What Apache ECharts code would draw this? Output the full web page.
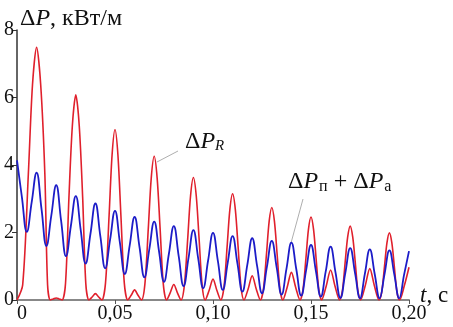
<!DOCTYPE html>
<html>
<head>
    <meta charset="utf-8" />
    <title>ΔP(t)</title>
    <script src="https://cdn.jsdelivr.net/npm/echarts@6/dist/echarts.min.js"></script>
    <style>
        html, body { margin: 0; padding: 0; background: #fff; }
        #main { width: 453px; height: 327px; }
    </style>
</head>
<body>
<div id="main"></div>
<script type="text/javascript">
    // ΔP_R, кВт/м — [t, value] (lobes and small bumps)
    let lossR = [
        [0, 0], [0.0029, 0.45], [0.0058, 3.75], [0.0079, 6.37], [0.010, 7.49], [0.0121, 6.37], [0.0142, 3.75], [0.0156, 0.45], [0.017, 0],
        [0.0185, 0.03], [0.020, 0.06], [0.0215, 0.03], [0.023, 0],
        [0.02475, 0.49], [0.0265, 3.04], [0.02825, 5.17], [0.030, 6.08], [0.03175, 5.17], [0.0335, 3.04], [0.0351, 0.49], [0.0367, 0],
        [0.03835, 0.09], [0.040, 0.19], [0.04165, 0.09], [0.0433, 0],
        [0.04515, 0.5], [0.047, 2.52], [0.0485, 4.29], [0.050, 5.05], [0.0515, 4.29], [0.053, 2.52], [0.05475, 0.5], [0.0565, 0],
        [0.05825, 0.14], [0.060, 0.30], [0.06175, 0.14], [0.0635, 0],
        [0.06525, 0.47], [0.067, 2.13], [0.0685, 3.62], [0.070, 4.26], [0.0715, 3.62], [0.073, 2.13], [0.07465, 0.47], [0.0763, 0],
        [0.07815, 0.21], [0.080, 0.46], [0.08185, 0.21], [0.0837, 0],
        [0.0854, 0.44], [0.0871, 1.82], [0.08855, 3.09], [0.090, 3.63], [0.09145, 3.09], [0.0929, 1.82], [0.09445, 0.44], [0.096, 0],
        [0.098, 0.28], [0.100, 0.62], [0.102, 0.28], [0.104, 0],
        [0.1056, 0.38], [0.1072, 1.58], [0.1086, 2.68], [0.110, 3.15], [0.1114, 2.68], [0.1128, 1.58], [0.1143, 0.38], [0.1158, 0],
        [0.1179, 0.32], [0.120, 0.72], [0.1221, 0.32], [0.1242, 0],
        [0.12575, 0.33], [0.1273, 1.37], [0.12865, 2.33], [0.130, 2.74], [0.13135, 2.33], [0.1327, 1.37], [0.13415, 0.33], [0.1356, 0],
        [0.1378, 0.37], [0.140, 0.82], [0.1422, 0.37], [0.1444, 0],
        [0.1459, 0.3], [0.1474, 1.23], [0.1487, 2.09], [0.150, 2.46], [0.1513, 2.09], [0.1526, 1.23], [0.154, 0.3], [0.1554, 0],
        [0.1577, 0.4], [0.160, 0.89], [0.1623, 0.4], [0.1646, 0],
        [0.166, 0.26], [0.1674, 1.1], [0.1687, 1.86], [0.170, 2.19], [0.1713, 1.86], [0.1726, 1.1], [0.17395, 0.26], [0.1753, 0],
        [0.17765, 0.42], [0.180, 0.93], [0.18235, 0.42], [0.1847, 0],
        [0.1861, 0.24], [0.1875, 1.0], [0.18875, 1.69], [0.190, 1.99], [0.19125, 1.69], [0.1925, 1.0], [0.19385, 0.24], [0.1952, 0],
        [0.1976, 0.42], [0.200, 0.97]
    ]

    // ΔP_п + ΔP_а, кВт/м — [t, value]
    let lossPA = [
        [0, 4.14], [0.0025, 3.05], [0.005, 2.02], [0.0075, 2.9], [0.010, 3.77],
        [0.0125, 2.7], [0.015, 1.60], [0.0175, 2.5], [0.020, 3.40],
        [0.0225, 2.35], [0.025, 1.30], [0.0275, 2.2], [0.030, 3.08],
        [0.0325, 2.08], [0.035, 1.08], [0.0375, 1.97], [0.040, 2.86],
        [0.0425, 1.9], [0.045, 0.94], [0.0475, 1.79], [0.050, 2.64],
        [0.0525, 1.7], [0.055, 0.77], [0.0575, 1.62], [0.060, 2.46],
        [0.0625, 1.57], [0.065, 0.67], [0.0675, 1.5], [0.070, 2.32],
        [0.0725, 1.43], [0.075, 0.54], [0.0775, 1.37], [0.080, 2.19],
        [0.0825, 1.3], [0.085, 0.41], [0.0875, 1.24], [0.090, 2.07],
        [0.0925, 1.21], [0.095, 0.35], [0.0975, 1.17], [0.100, 1.99],
        [0.1025, 1.15], [0.105, 0.30], [0.1075, 1.1], [0.110, 1.89],
        [0.1125, 1.07], [0.115, 0.25], [0.1175, 1.04], [0.120, 1.83],
        [0.1225, 1.01], [0.125, 0.20], [0.1275, 0.98], [0.130, 1.75],
        [0.1325, 0.96], [0.135, 0.16], [0.1375, 0.93], [0.140, 1.70],
        [0.1425, 0.91], [0.145, 0.13], [0.1475, 0.88], [0.150, 1.63],
        [0.1525, 0.86], [0.155, 0.10], [0.1575, 0.84], [0.160, 1.58],
        [0.1625, 0.82], [0.165, 0.06], [0.1675, 0.8], [0.170, 1.54],
        [0.1725, 0.79], [0.175, 0.05], [0.1775, 0.78], [0.180, 1.50],
        [0.1825, 0.77], [0.185, 0.05], [0.1875, 0.76], [0.190, 1.47],
        [0.1925, 0.76], [0.195, 0.05], [0.1975, 0.75], [0.200, 1.45]
    ]

    let xTicks = [0, 0.05, 0.10, 0.15, 0.20]
    let yTicks = [0, 2, 4, 6, 8]

    let colorR = '#e0202c'
    let colorPA = '#1c1cc8'
    let axisGray = '#888888'
    let fontSerif = 'Liberation Serif'

    let myChart = echarts.init(document.getElementById('main'))

    let option = {
        animation: false,
        backgroundColor: '#ffffff',
        textStyle: {fontFamily: fontSerif},
        grid: {left: 17, right: 44, top: 30, bottom: 27},
        xAxis: {
            type: 'value',
            min: xTicks[0],
            max: xTicks[xTicks.length - 1],
            interval: 0.05,
            axisLine: {show: true, onZero: false, lineStyle: {color: axisGray, width: 2}},
            axisTick: {show: true, length: 4, lineStyle: {color: '#555', width: 1}},
            splitLine: {show: false},
            axisLabel: {
                fontFamily: fontSerif, fontSize: 20, color: '#111', margin: 4,
                formatter: function (v) {
                    if (v === 0) return '{z|0}'
                    return v.toFixed(2).replace('.', ',')
                },
                rich: {z: {fontFamily: fontSerif, fontSize: 20, color: '#111', padding: [0, 0, 0, 10]}}
            }
        },
        yAxis: {
            type: 'value',
            min: yTicks[0],
            max: yTicks[yTicks.length - 1],
            interval: 2,
            axisLine: {show: true, lineStyle: {color: '#333', width: 1.5}},
            axisTick: {show: true, length: 5, lineStyle: {color: '#333'}},
            splitLine: {show: false},
            axisLabel: {fontFamily: fontSerif, fontSize: 20, color: '#111', margin: 3}
        },
        series: [
            {
                name: 'ΔP_R',
                type: 'line',
                data: lossR,
                smooth: 0.3,
                showSymbol: false,
                z: 2,
                lineStyle: {color: colorR, width: 1.6}
            },
            {
                name: 'ΔP_п + ΔP_а',
                type: 'line',
                data: lossPA,
                smooth: 0.45,
                showSymbol: false,
                z: 3,
                lineStyle: {color: colorPA, width: 1.8}
            }
        ],
        graphic: [
            {
                type: 'text', left: 20, top: 7,
                style: {
                    fontFamily: fontSerif, fontSize: 24,
                    text: '{n|Δ}{i|P}{n|, кВт/м}',
                    rich: {
                        n: {fontFamily: fontSerif, fontSize: 24, fill: '#111'},
                        i: {fontFamily: fontSerif, fontSize: 24, fontStyle: 'italic', fill: '#111'}
                    }
                }
            },
            {
                type: 'text', left: 420, top: 284,
                style: {
                    fontFamily: fontSerif, fontSize: 23,
                    text: '{i|t}{n|, с}',
                    rich: {
                        n: {fontFamily: fontSerif, fontSize: 23, fill: '#111'},
                        i: {fontFamily: fontSerif, fontSize: 23, fontStyle: 'italic', fill: '#111'}
                    }
                }
            },
            {
                type: 'text', left: 185, top: 129,
                style: {
                    fontFamily: fontSerif, fontSize: 24,
                    text: '{n|Δ}{i|P}{si|R}',
                    rich: {
                        n: {fontFamily: fontSerif, fontSize: 24, fill: '#111', lineHeight: 27},
                        i: {fontFamily: fontSerif, fontSize: 24, fontStyle: 'italic', fill: '#111', lineHeight: 27},
                        si: {fontFamily: fontSerif, fontSize: 15, fontStyle: 'italic', fill: '#111', lineHeight: 27, padding: [10, 0, 0, 0]}
                    }
                }
            },
            {
                type: 'text', left: 288, top: 169,
                style: {
                    fontFamily: fontSerif, fontSize: 24,
                    text: '{n|Δ}{i|P}{s|п}{n| + Δ}{i|P}{s|а}',
                    rich: {
                        n: {fontFamily: fontSerif, fontSize: 24, fill: '#111', lineHeight: 27},
                        i: {fontFamily: fontSerif, fontSize: 24, fontStyle: 'italic', fill: '#111', lineHeight: 27},
                        s: {fontFamily: fontSerif, fontSize: 16, fill: '#111', lineHeight: 27, padding: [10, 0, 0, 1]}
                    }
                }
            },
            {
                type: 'line', silent: true,
                shape: {x1: 157, y1: 162, x2: 178, y2: 151},
                style: {stroke: '#999', lineWidth: 0.8}
            },
            {
                type: 'line', silent: true,
                shape: {x1: 303, y1: 199, x2: 291, y2: 243},
                style: {stroke: '#999', lineWidth: 0.8}
            }
        ]
    }

    myChart.setOption(option)
</script>
</body>
</html>
